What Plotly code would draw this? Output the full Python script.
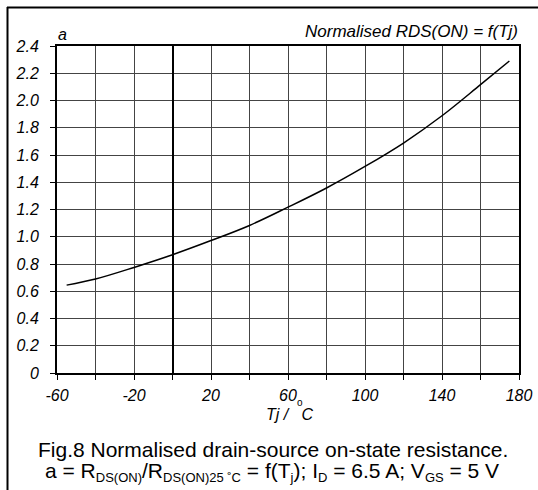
import plotly.graph_objects as go

# Normalised RDS(ON) vs junction temperature
TJ = [-55, -40, -20, 0, 20, 40, 60, 80, 100, 120, 140, 160, 175]
A = [0.645, 0.69, 0.775, 0.868, 0.972, 1.083, 1.217, 1.358, 1.516, 1.688, 1.888, 2.116, 2.29]

X_TICKS = [-60, -20, 20, 60, 100, 140, 180]
Y_TICKS = [0, 0.2, 0.4, 0.6, 0.8, 1.0, 1.2, 1.4, 1.6, 1.8, 2.0, 2.2, 2.4]
Y_TEXT = ["0", "0.2", "0.4", "0.6", "0.8", "1.0", "1.2", "1.4", "1.6", "1.8", "2.0", "2.2", "2.4"]

FONT = "Liberation Sans, Arial, sans-serif"

fig = go.Figure()
fig.add_trace(go.Scatter(x=TJ, y=A, mode="lines", line=dict(color="black", width=1.5, shape="spline"),
                         hoverinfo="skip", showlegend=False))

L, R, T, B = 57, 19, 46, 117
W, H = 538, 490
pw, ph = W - L - R, H - T - B

def px(x):
    return (x - L) / pw

def py(y):
    return (H - B - y) / ph

def sub(s):
    return "<sub><span style='font-size:13px'>%s</span></sub>" % s

fig.update_xaxes(range=[-60, 180], showgrid=True, gridcolor="#444", gridwidth=1,
                 zeroline=True, zerolinecolor="black", zerolinewidth=2,
                 showline=True, linecolor="black", linewidth=2, mirror=True,
                 ticks="outside", ticklen=5, tickcolor="black",
                 tickvals=X_TICKS, ticktext=["<i>%d</i>" % v for v in X_TICKS],
                 tickfont=dict(family=FONT, size=16, color="black"),
                 ticklabelstandoff=2,
                 minor=dict(dtick=20, tick0=-60, showgrid=True, gridcolor="#444", gridwidth=1,
                            ticks="outside", ticklen=5, tickcolor="black"))
fig.update_yaxes(range=[0, 2.4], showgrid=True, gridcolor="#444", gridwidth=1, zeroline=False,
                 showline=True, linecolor="black", linewidth=2, mirror=True,
                 ticks="outside", ticklen=5, tickcolor="black",
                 tickvals=Y_TICKS, ticktext=["<i>%s</i>" % t for t in Y_TEXT],
                 tickfont=dict(family=FONT, size=16, color="black"),
                 ticklabelstandoff=8)

ann = []
ann.append(dict(x=1.0015, y=py(31.5), xref="paper", yref="paper", xanchor="right", yanchor="middle",
                text="<i>Normalised RDS(ON) = f(Tj)</i>", showarrow=False,
                font=dict(family=FONT, size=17, color="black")))
ann.append(dict(x=px(56), y=py(34), xref="paper", yref="paper", xanchor="left", yanchor="middle",
                text="<i>a</i>", showarrow=False, font=dict(family=FONT, size=16, color="black")))
ann.append(dict(x=px(290), y=py(414), xref="paper", yref="paper", xanchor="center", yanchor="middle",
                text="<i>Tj /   C</i>", showarrow=False, font=dict(family=FONT, size=16, color="black")))
ann.append(dict(x=px(300), y=py(402), xref="paper", yref="paper", xanchor="center", yanchor="middle",
                text="o", showarrow=False, font=dict(family=FONT, size=10, color="black")))
ann.append(dict(x=px(273), y=py(449), xref="paper", yref="paper", xanchor="center", yanchor="middle",
                text="Fig.8 Normalised drain-source on-state resistance.", showarrow=False,
                font=dict(family=FONT, size=21, color="black")))
ann.append(dict(x=px(272), y=py(472), xref="paper", yref="paper", xanchor="center", yanchor="middle",
                text="a = R" + sub("DS(ON)") + "/R" + sub("DS(ON)25 ˚C") + " = f(T" + sub("j") + "); I"
                     + sub("D") + " = 6.5 A; V" + sub("GS") + " = 5 V",
                showarrow=False, font=dict(family=FONT, size=21, color="black")))

# outer frame (top and left edges of the figure box)
shapes = [
    dict(type="line", xref="paper", yref="paper", x0=px(7), y0=py(7.5), x1=px(540), y1=py(7.5),
         line=dict(color="black", width=2)),
    dict(type="line", xref="paper", yref="paper", x0=px(7.5), y0=py(7), x1=px(7.5), y1=py(492),
         line=dict(color="black", width=2)),
]

fig.update_layout(width=W, height=H, margin=dict(l=L, r=R, t=T, b=B, autoexpand=False),
                  paper_bgcolor="white", plot_bgcolor="white",
                  annotations=ann, shapes=shapes, showlegend=False)

fig.write_html("out.html", config={"displayModeBar": False},
               post_script="document.body.style.margin='0';")
